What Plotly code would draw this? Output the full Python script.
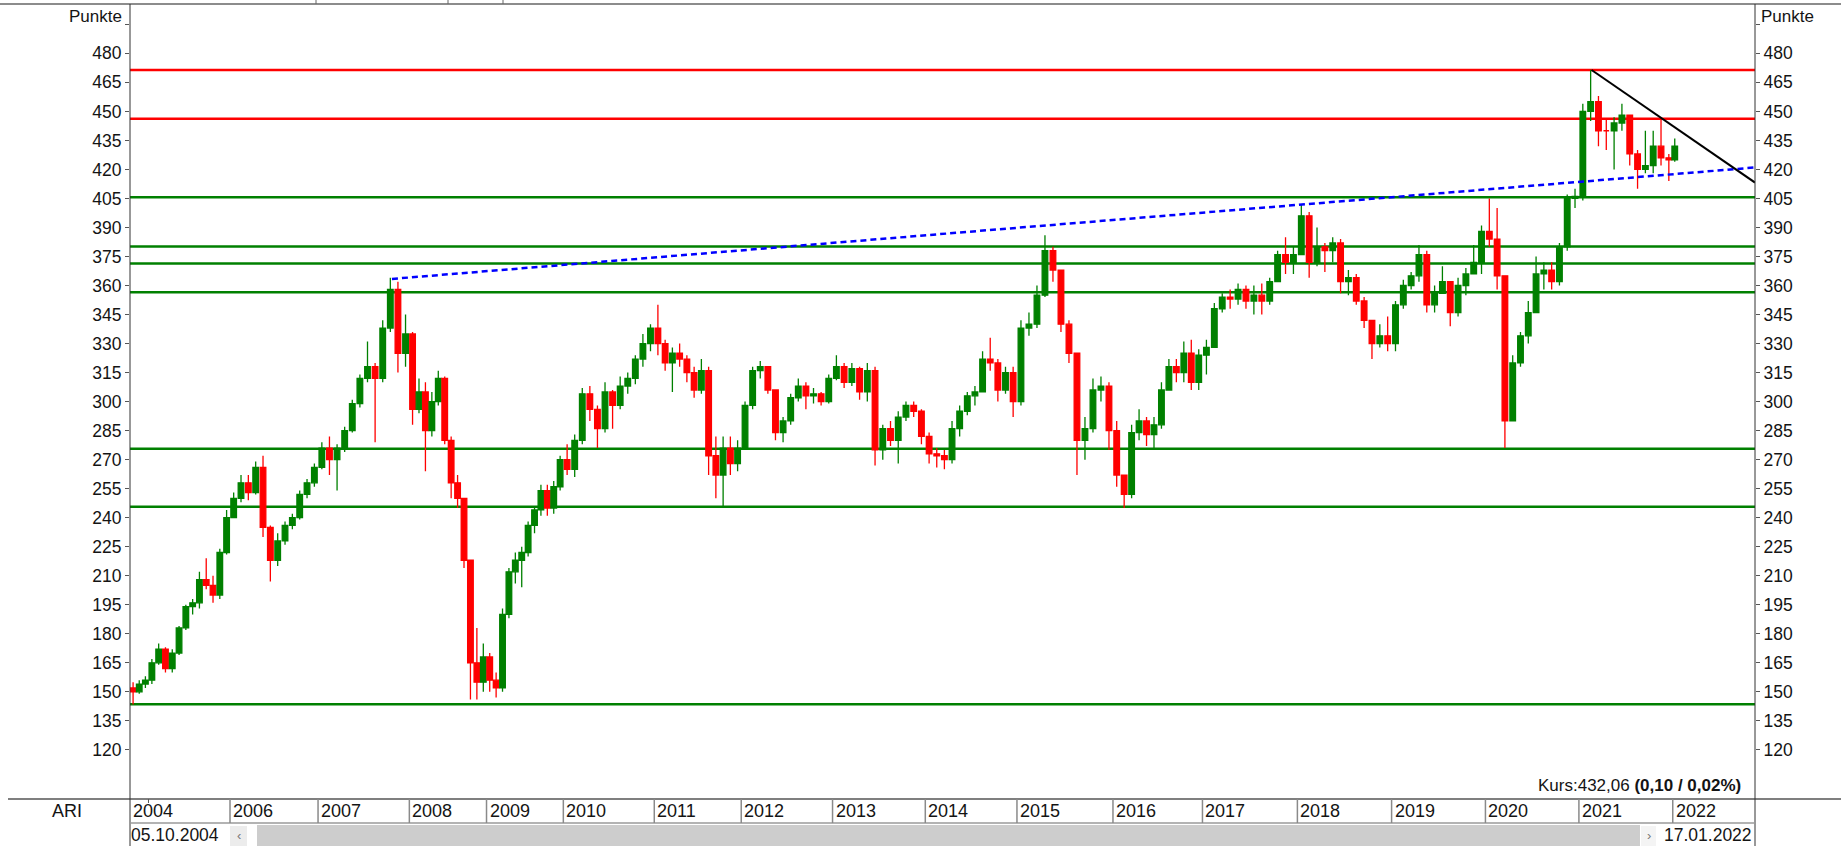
import pandas as pd
import plotly.graph_objects as go

# ------------------------------------------------------------------ data
# session index (trading-day position on the chart's x axis) where each year starts
YEARS = list(range(2004, 2023))
YEAR_START_SESSION = [0, 51, 276, 519, 771, 984, 1196, 1447, 1687, 1939, 2195,
                      2448, 2713, 2960, 3222, 3482, 3741, 3999, 4258]
LAST_SESSION = 4269          # 17.01.2022
AXIS_END_SESSION = 4485
LABELLED_YEARS = [2004, 2006, 2007, 2008, 2009, 2010, 2011, 2012, 2013, 2014,
                  2015, 2016, 2017, 2018, 2019, 2020, 2021, 2022]

MONTHS = pd.period_range("2004-10", "2022-01", freq="M")

FIRST_OPEN = 152
CLOSE = [
    150, 154, 156,                                                   # 2004
    165, 172, 162, 170, 183, 194, 196, 208, 205, 200, 222, 240,      # 2005
    250, 258, 253, 266, 235, 218, 228, 236, 240, 252, 258, 266,      # 2006
    276, 270, 276, 285, 299, 312, 318, 312, 338, 358, 325, 335,      # 2007
    296, 305, 285, 300, 312, 280, 258, 250, 218, 165, 155, 168,      # 2008
    156, 152, 190, 212, 218, 222, 236, 244, 254, 245, 256, 270,      # 2009
    265, 280, 304, 296, 286, 305, 298, 308, 312, 322, 330, 338,      # 2010
    330, 320, 325, 322, 315, 306, 316, 272, 262, 276, 268, 276,      # 2011
    298, 316, 318, 306, 284, 290, 302, 308, 303, 304, 300, 312,      # 2012
    318, 310, 317, 305, 316, 275, 286, 280, 292, 298, 295, 282,      # 2013
    273, 272, 270, 286, 295, 303, 305, 322, 320, 306, 315, 300,      # 2014
    338, 340, 355, 378, 368, 340, 325, 280, 286, 306, 308, 285,      # 2015
    262, 252, 284, 290, 283, 288, 306, 318, 315, 325, 310, 324,      # 2016
    328, 348, 354, 353, 358, 352, 355, 352, 362, 376, 372, 376,      # 2017
    396, 372, 380, 378, 382, 362, 364, 352, 342, 330, 334, 330,      # 2018
    350, 360, 365, 376, 350, 356, 362, 346, 360, 366, 372, 388,      # 2019
    384, 365, 290, 320, 334, 346, 366, 368, 362, 380, 405, 406,      # 2020
    450, 455, 440, 440, 444, 448, 428, 420, 422, 432, 426, 425,      # 2021
    432.06,                                                          # 2022
]
HIGH = [
    155, 156, 158,
    167, 175, 173, 172, 184, 195, 198, 212, 219, 210, 224, 244,
    253, 262, 262, 269, 272, 236, 232, 238, 242, 254, 260, 268,
    279, 282, 278, 287, 301, 314, 331, 320, 342, 364, 362, 345,
    336, 312, 310, 305, 316, 313, 282, 262, 250, 218, 183, 175,
    170, 160, 193, 214, 222, 225, 238, 246, 257, 257, 259, 272,
    278, 283, 307, 308, 298, 310, 306, 313, 315, 324, 335, 340,
    350, 332, 328, 330, 324, 318, 322, 318, 282, 282, 282, 280,
    300, 318, 321, 318, 306, 292, 304, 312, 310, 307, 305, 314,
    324, 320, 320, 318, 320, 318, 288, 290, 295, 300, 300, 296,
    284, 276, 275, 290, 298, 305, 308, 326, 333, 322, 318, 318,
    342, 346, 360, 386, 380, 368, 342, 324, 292, 312, 313, 310,
    290, 262, 288, 296, 292, 292, 310, 322, 322, 331, 332, 327,
    332, 351, 356, 358, 361, 360, 360, 361, 364, 378, 385, 380,
    402, 398, 390, 382, 385, 384, 368, 366, 354, 342, 340, 344,
    352, 363, 367, 381, 378, 360, 370, 362, 364, 369, 381, 391,
    405, 400, 365, 324, 336, 352, 375, 372, 372, 382, 407, 410,
    454, 471.5, 458, 446, 447, 454, 448, 430, 440, 440, 447, 428,
    436,
]
LOW = [
    143.5, 149, 152,
    154, 164, 160, 160, 169, 182, 190, 193, 203, 196, 198, 221,
    240, 248, 249, 252, 230, 207, 215, 226, 234, 239, 250, 256,
    265, 262, 254, 274, 284, 297, 310, 279, 310, 336, 315, 318,
    288, 294, 264, 282, 298, 278, 250, 245, 214, 146, 146, 150,
    150, 147, 150, 188, 206, 204, 220, 232, 241, 241, 242, 254,
    262, 261, 278, 290, 276, 284, 286, 296, 304, 309, 318, 326,
    324, 316, 305, 318, 310, 302, 304, 262, 250, 246, 262, 264,
    275, 296, 312, 304, 280, 279, 288, 300, 296, 299, 298, 299,
    311, 307, 308, 301, 300, 267, 270, 277, 268, 290, 292, 278,
    268, 266, 265, 268, 282, 293, 298, 306, 316, 300, 304, 292,
    298, 334, 338, 354, 362, 336, 320, 262, 270, 284, 300, 275,
    256, 245, 250, 280, 277, 276, 286, 306, 310, 310, 306, 306,
    314, 328, 346, 348, 350, 348, 345, 345, 350, 362, 366, 366,
    376, 364, 370, 367, 372, 356, 355, 350, 338, 322, 328, 326,
    326, 348, 358, 362, 346, 346, 356, 339, 344, 355, 366, 366,
    380, 358, 276, 290, 318, 330, 346, 358, 358, 360, 378, 400,
    404, 445, 432, 430, 420, 440, 422, 410, 418, 418, 422, 414,
    424,
]

RED_LEVELS = [471.4, 446.2]
GREEN_LEVELS = [405.6, 380.1, 371.4, 356.5, 275.6, 245.6, 143.6]

BLUE_TREND_X = [723, AXIS_END_SESSION]
BLUE_TREND_Y = [363.4, 421.0]
BLACK_TREND_X = [4034, AXIS_END_SESSION]
BLACK_TREND_Y = [471.4, 413.2]

Y_TICKS = list(range(120, 481, 15))
Y_RANGE = [94.6, 505.5]

START_DATE = "05.10.2004"
END_DATE = "17.01.2022"
KURS_TEXT = "Kurs:432,06 <b>(0,10 / 0,02%)</b>"
INDEX_NAME = "ARI"

# ------------------------------------------------------------------ build
OPEN = [FIRST_OPEN] + CLOSE[:-1]
HIGH = [max(h, o, c) for h, o, c in zip(HIGH, OPEN, CLOSE)]
LOW = [min(l, o, c) for l, o, c in zip(LOW, OPEN, CLOSE)]

year_start = dict(zip(YEARS, YEAR_START_SESSION))
x_pos = []
for y in YEARS:
    months_y = [p for p in MONTHS if p.year == y]
    s0 = year_start[y]
    s1 = year_start.get(y + 1, LAST_SESSION)
    n = len(months_y)
    for k in range(n):
        x_pos.append(s0 + (k + 0.5) / n * (s1 - s0))

FONT = "Liberation Sans, Arial, sans-serif"
TXT = "#141414"
W, H = 1841, 846
ML, MR, MT, MB = 130, 86, 4, 47
PW, PH = W - ML - MR, H - MT - MB


def px_x(px):
    return (px - ML) / PW


def px_y(py):
    return (H - MB - py) / PH


fig = go.Figure()

fig.add_trace(go.Candlestick(
    x=x_pos, open=OPEN, high=HIGH, low=LOW, close=CLOSE,
    increasing=dict(line=dict(color="#008000", width=1.3), fillcolor="#008000"),
    decreasing=dict(line=dict(color="#ff0000", width=1.3), fillcolor="#ff0000"),
    whiskerwidth=0, showlegend=False, hoverinfo="skip", name=INDEX_NAME,
))

fig.add_trace(go.Scatter(x=BLUE_TREND_X, y=BLUE_TREND_Y, mode="lines",
                         line=dict(color="#0000ff", width=2.5, dash="6px,4px"),
                         showlegend=False, hoverinfo="skip"))
fig.add_trace(go.Scatter(x=BLACK_TREND_X, y=BLACK_TREND_Y, mode="lines",
                         line=dict(color="#000000", width=2),
                         showlegend=False, hoverinfo="skip"))
# invisible trace so the right-hand axis is drawn
fig.add_trace(go.Scatter(x=[AXIS_END_SESSION / 2], y=[300], yaxis="y2", mode="markers",
                         marker=dict(opacity=0), showlegend=False, hoverinfo="skip"))

shapes = []
for lv in RED_LEVELS:
    shapes.append(dict(type="line", xref="paper", yref="y", x0=0, x1=1, y0=lv, y1=lv,
                       line=dict(color="#ff0000", width=2.5), layer="below"))
for lv in GREEN_LEVELS:
    shapes.append(dict(type="line", xref="paper", yref="y", x0=0, x1=1, y0=lv, y1=lv,
                       line=dict(color="#008000", width=2.5), layer="below"))

# frame lines
shapes += [
    dict(type="line", xref="paper", yref="paper", x0=px_x(0), x1=px_x(W), y0=1, y1=1,
         line=dict(color="#666666", width=1.5)),
    dict(type="line", xref="paper", yref="paper", x0=px_x(8), x1=px_x(W), y0=0, y1=0,
         line=dict(color="#555555", width=1.5)),
    dict(type="line", xref="paper", yref="paper", x0=0, x1=0, y0=px_y(H), y1=1,
         line=dict(color="#333333", width=1)),
    dict(type="line", xref="paper", yref="paper", x0=1, x1=1, y0=px_y(H), y1=1,
         line=dict(color="#333333", width=1)),
    dict(type="line", xref="paper", yref="paper", x0=0, x1=1, y0=px_y(823), y1=px_y(823),
         line=dict(color="#9a9a9a", width=1.5)),
]
for tx in (316, 448, 503):
    shapes.append(dict(type="line", xref="paper", yref="paper", x0=px_x(tx), x1=px_x(tx),
                       y0=1, y1=px_y(0), line=dict(color="#666666", width=1)))

# year dividers
for y in YEARS[1:]:
    s = year_start[y]
    if y in LABELLED_YEARS:
        shapes.append(dict(type="line", xref="x", yref="paper", x0=s, x1=s, y0=0,
                           y1=px_y(823), line=dict(color="#8a8a8a", width=1.5)))
    else:
        shapes.append(dict(type="line", xref="x", yref="paper", x0=s, x1=s, y0=0,
                           y1=px_y(803), line=dict(color="#555555", width=1)))

# scroll bar
shapes += [
    dict(type="rect", xref="paper", yref="paper", x0=px_x(257), x1=px_x(1640),
         y0=px_y(H), y1=px_y(825), fillcolor="#cdcdcd", line=dict(width=0)),
    dict(type="rect", xref="paper", yref="paper", x0=px_x(230), x1=px_x(247),
         y0=px_y(H), y1=px_y(826), fillcolor="#ececec", line=dict(width=0)),
    dict(type="rect", xref="paper", yref="paper", x0=px_x(1641), x1=px_x(1656),
         y0=px_y(H), y1=px_y(826), fillcolor="#f4f4f4", line=dict(width=0)),
]

annotations = []
for y in LABELLED_YEARS:
    annotations.append(dict(x=year_start[y], xref="x", y=px_y(811), yref="paper",
                            text=str(y), showarrow=False, xanchor="left", yanchor="middle",
                            xshift=1, font=dict(family=FONT, size=18, color=TXT)))
annotations += [
    dict(x=px_x(67), xref="paper", y=px_y(811), yref="paper", text=INDEX_NAME,
         showarrow=False, xanchor="center", yanchor="middle",
         font=dict(family=FONT, size=18, color=TXT)),
    dict(x=px_x(130), xref="paper", y=px_y(834.5), yref="paper", text=START_DATE,
         showarrow=False, xanchor="left", yanchor="middle", borderpad=0,
         font=dict(family=FONT, size=17.5, color=TXT)),
    dict(x=px_x(1753), xref="paper", y=px_y(834.5), yref="paper", text=END_DATE,
         showarrow=False, xanchor="right", yanchor="middle", borderpad=0,
         font=dict(family=FONT, size=17.5, color=TXT)),
    dict(x=px_x(238.5), xref="paper", y=px_y(835), yref="paper", text="‹",
         showarrow=False, xanchor="center", yanchor="middle", borderpad=0,
         font=dict(family=FONT, size=13, color="#777777")),
    dict(x=px_x(1648.5), xref="paper", y=px_y(835), yref="paper", text="›",
         showarrow=False, xanchor="center", yanchor="middle", borderpad=0,
         font=dict(family=FONT, size=13, color="#777777")),
    dict(x=px_x(1743), xref="paper", y=px_y(797), yref="paper", text=KURS_TEXT,
         showarrow=False, xanchor="right", yanchor="bottom",
         font=dict(family=FONT, size=17, color=TXT)),
    dict(x=px_x(124), xref="paper", y=px_y(17), yref="paper", text="Punkte",
         showarrow=False, xanchor="right", yanchor="middle",
         font=dict(family=FONT, size=17, color=TXT)),
    dict(x=px_x(1759), xref="paper", y=px_y(17), yref="paper", text="Punkte",
         showarrow=False, xanchor="left", yanchor="middle",
         font=dict(family=FONT, size=17, color=TXT)),
]

tickvals = Y_TICKS + [495]
ticktext = [str(v) for v in Y_TICKS] + [""]
yax = dict(range=Y_RANGE, tickvals=tickvals, ticktext=ticktext, ticks="outside",
           ticklen=4, tickcolor="#555555", showgrid=False, zeroline=False,
           showline=False, tickfont=dict(family=FONT, size=17.5, color=TXT), fixedrange=True)

fig.update_layout(
    width=W, height=H,
    margin=dict(l=ML, r=MR, t=MT, b=MB, pad=0),
    paper_bgcolor="white", plot_bgcolor="white",
    boxgap=0.05, boxgroupgap=0,
    xaxis=dict(range=[0, AXIS_END_SESSION], showticklabels=False, ticks="",
               showgrid=False, zeroline=False, showline=False,
               rangeslider=dict(visible=False), fixedrange=True),
    yaxis=dict(side="left", **yax),
    yaxis2=dict(side="right", overlaying="y", **yax),
    shapes=shapes, annotations=annotations,
    showlegend=False, font=dict(family=FONT, color=TXT),
)

fig.write_html("out.html", config={"displayModeBar": False},
               post_script="document.body.style.margin='0';document.body.style.overflow='hidden';")
